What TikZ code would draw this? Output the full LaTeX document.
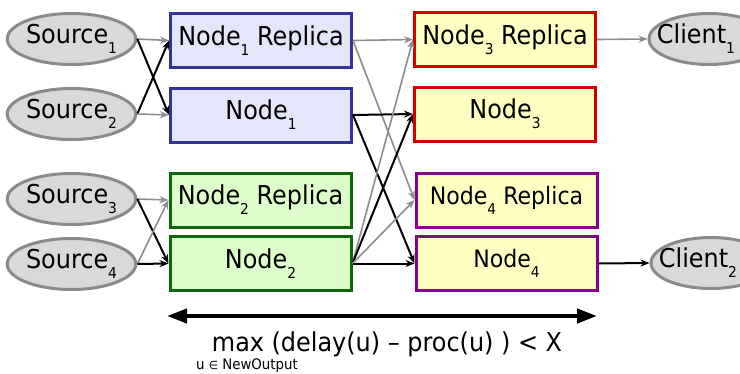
\documentclass[tikz,border=0pt]{standalone}
\usepackage{fontspec}
\setmainfont{DejaVu Sans}[FakeStretch=0.92]
\usetikzlibrary{shapes.geometric,arrows.meta}

\definecolor{ellfill}{HTML}{D9D9D9}
\definecolor{elldraw}{HTML}{8A8A8A}
\definecolor{arrgray}{HTML}{8C8C8C}
\definecolor{bluefill}{HTML}{E6E6FB}
\definecolor{bluedraw}{HTML}{333399}
\definecolor{greenfill}{HTML}{DDFDCA}
\definecolor{greendraw}{HTML}{0B680B}
\definecolor{yellowfill}{HTML}{FFFFC2}
\definecolor{reddraw}{HTML}{D40000}
\definecolor{purpledraw}{HTML}{880088}

\newcommand\sbs[1]{\raisebox{-10pt}{\fontsize{15}{15}\selectfont #1}}

\tikzset{
  big/.style={font=\fontsize{26}{30}\selectfont},
  endpoint/.style={ellipse, draw=elldraw, fill=ellfill, line width=3pt,
    minimum width=120pt, minimum height=51pt, inner sep=0pt, big},
  opbox/.style={rectangle, line width=3pt, minimum width=181pt,
    minimum height=54pt, inner sep=0pt, big},
  bluebox/.style={opbox, draw=bluedraw, fill=bluefill},
  greenbox/.style={opbox, draw=greendraw, fill=greenfill},
  redbox/.style={opbox, draw=reddraw, fill=yellowfill},
  purplebox/.style={opbox, draw=purpledraw, fill=yellowfill,
    font=\fontsize{24}{28}\selectfont},
  garr/.style={draw=arrgray, line width=1.6pt, -{Stealth[length=9pt,width=7pt]}},
  karr/.style={draw=black, line width=2pt, -{Stealth[length=9pt,width=7pt]}},
}

\begin{document}
\begin{tikzpicture}[x=1pt,y=-1pt]
\useasboundingbox (0,0) rectangle (740,373);

% sources
\node[endpoint] (s1) at (71.5,39)  {Source\sbs{1}};
\node[endpoint] (s2) at (71.5,114) {Source\sbs{2}};
\node[endpoint] (s3) at (71.5,199) {Source\sbs{3}};
\node[endpoint] (s4) at (71.5,264) {Source\sbs{4}};

% first stage
\node[bluebox]  (n1r) at (261,40.5)  {Node\sbs{1} Replica};
\node[bluebox]  (n1)  at (261,115)   {Node\sbs{1}};
\node[greenbox] (n2r) at (260.5,200) {Node\sbs{2} Replica};
\node[greenbox] (n2)  at (260.5,263.5) {Node\sbs{2}};

% second stage
\node[redbox]    (n3r) at (505,39.5)   {Node\sbs{3} Replica};
\node[redbox]    (n3)  at (505,114)    {Node\sbs{3}};
\node[purplebox] (n4r) at (506.5,200)   {Node\sbs{4} Replica};
\node[purplebox] (n4)  at (506.5,263.5) {Node\sbs{4}};

% clients (labels sit left of centre, the ellipses run past the edge)
\node[endpoint] (c1) at (709,39)  {\hspace*{-26pt}Client\sbs{1}};
\node[endpoint] (c2) at (711,263) {\hspace*{-26pt}Client\sbs{2}};

% sources to first stage
\draw[garr] (s1.east) -- (n1r.west);
\draw[karr] (s1.east) -- (n1.west);
\draw[karr] (s2.east) -- (n1r.west);
\draw[garr] (s2.east) -- (n1.west);
\draw[garr] (s3.east) -- (n2r.west);
\draw[karr] (s3.east) -- (n2.west);
\draw[garr] (s4.east) -- (n2r.west);
\draw[karr] (s4.east) -- (n2.west);

% first stage to second stage
\draw[garr] (n1r.east) -- (n3r.west);
\draw[garr] (n1r.east) -- (n4r.west);
\draw[karr] (n1.east) -- (n3.west);
\draw[karr] (n1.east) -- (n4.west);
\draw[garr] (n2.east) -- (n3r.west);
\draw[karr] (n2.east) -- (n3.west);
\draw[garr] (n2.east) -- (n4r.west);
\draw[karr] (n2.east) -- (n4.west);

% second stage to clients
\draw[garr] (n3r.east) -- (c1.west);
\draw[karr] (n4.east) -- (c2.west);

% latency bound
\coordinate (bl) at (167,316);
\coordinate (br) at (597,316);
\draw[line width=4pt, {Triangle[length=20pt,width=14pt]}-{Triangle[length=20pt,width=14pt]}] (bl) -- (br);
\node[big, anchor=base, inner sep=0pt] (bound) at (387,351) {max (delay(u) – proc(u) ) < X};
\node[font=\fontsize{14.5}{16}\selectfont, anchor=base west, inner sep=0pt] (range) at (196,369.5) {u {\fontsize{11.5}{13}\selectfont ∈} NewOutput};
\end{tikzpicture}
\end{document}
